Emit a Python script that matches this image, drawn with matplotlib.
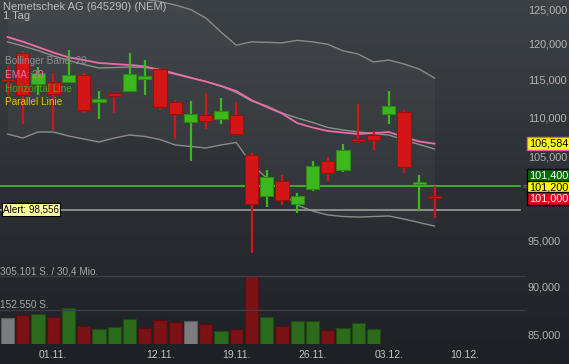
import numpy as np
import matplotlib.pyplot as plt
from matplotlib.transforms import blended_transform_factory
from matplotlib.ticker import FixedLocator, NullLocator, FuncFormatter

plt.rcParams['font.family'] = ['Liberation Sans', 'DejaVu Sans']

dates = ["29.10.", "30.10.", "31.10.", "01.11.", "02.11.", "05.11.", "06.11.", "07.11.",
         "08.11.", "09.11.", "12.11.", "13.11.", "14.11.", "15.11.", "16.11.", "19.11.",
         "20.11.", "21.11.", "22.11.", "23.11.", "26.11.", "27.11.", "28.11.", "29.11.",
         "30.11.", "03.12.", "04.12.", "05.12.", "06.12."]
opens = [115100, 118680, 114400, 114670, 114670, 115630, 111980, 113050, 113450, 115080,
         116450, 111980, 109360, 110270, 109750, 110270, 105160, 100170, 101960, 99220,
         101000, 104410, 103300, 107180, 107690, 110400, 110660, 101720, 100170]
highs = [116900, 118960, 116740, 115900, 119110, 115900, 113450, 113180, 118680, 117700,
         116590, 112250, 112120, 113180, 112520, 111980, 105410, 103300, 102690, 100540,
         104410, 104910, 106540, 111720, 108200, 113450, 110930, 102690, 101370]
lows = [112900, 109080, 112920, 108330, 114540, 110530, 109750, 110530, 113320, 112920,
        110930, 107180, 104410, 108460, 109100, 107690, 93610, 98880, 99100, 98170,
        100760, 101960, 103060, 106660, 105790, 109100, 102940, 98400, 97580]
closes = [114900, 112920, 115900, 113050, 115630, 110930, 112380, 112920, 115770, 115490,
          111320, 110400, 110400, 109490, 110790, 107830, 99280, 102450, 99690, 100170,
          103800, 102940, 105790, 106920, 107050, 111450, 103670, 101840, 99930]
volumes = [115300, 128800, 133300, 119800, 160200, 80800, 67300, 77600, 110800, 71800,
           107700, 97400, 101900, 88400, 59700, 67300, 305101, 121100, 80800, 101900,
           101900, 61500, 70400, 92900, 66000, 1500, 1500, 1500, 1500]
ema20 = [120960, 120290, 119530, 118760, 118080, 117700, 117290, 117150, 117010, 116830,
         116250, 115770, 115250, 114740, 114130, 113450, 112250, 111320, 110460, 109220,
         108650, 108200, 108000, 107820, 107940, 108070, 107430, 106860, 106584]
bb_mid = [120270, 119680, 119040, 118270, 117640, 117080, 116590, 116660, 116730, 116660,
          116450, 115840, 115290, 114740, 114130, 113250, 112120, 111450, 110530, 109880,
          109300, 108650, 108330, 108070, 107880, 107690, 107050, 106480, 105910]
bb_upper = [129000, 129300, 129400, 129200, 128900, 128500, 128000, 127500, 127000, 126500,
            126150, 125640, 124970, 123730, 121680, 119780, 120270, 120200, 120130, 120480,
            120270, 119920, 119000, 118540, 117430, 117700, 117150, 116450, 115210]
bb_lower = [107810, 107300, 108070, 108070, 107560, 107180, 106800, 107300, 107690, 107500,
            107110, 106420, 106230, 106040, 106420, 106730, 104040, 102300, 100520, 99100,
            98400, 97940, 97760, 97700, 97760, 97820, 97470, 97060, 96660]

date_ticks = [3, 10, 15, 20, 25, 30]
date_labels = ["01.11.", "12.11.", "19.11.", "26.11.", "03.12.", "10.12."]
price_ticks = [85000, 90000, 95000, 105000, 110000, 115000, 120000, 125000]
horizontal_line = 101400
alert_level = 98556
ema_last = 106584
parallel_level = 101200
last_price = 101000
vol_max = 305101

W, H = 569, 364
fig = plt.figure(figsize=(W / 100, H / 100), dpi=100)

# background gradient
bg = fig.add_axes([0, 0, 1, 1])
grad = np.linspace(0, 1, 256).reshape(-1, 1)
top = np.array([0x3c, 0x41, 0x46]) / 255
bot = np.array([0x1d, 0x20, 0x24]) / 255
img = top + (bot - top) * grad[..., None]
bg.imshow(img, aspect='auto', extent=[0, 1, 0, 1])
bg.set_axis_off()

x = np.arange(len(closes))
xlim = (-7.5 / 15.25, (522 - 7.5) / 15.25)
pw = 522 / W

ax = fig.add_axes([0, 0, pw, 1])
ax.patch.set_alpha(0)
ax.set_yscale('log')
ax.set_xlim(*xlim)
ax.set_ylim(82071, 126387)
for s in ax.spines.values():
    s.set_visible(False)
ax.yaxis.tick_right()
ax.yaxis.set_major_locator(FixedLocator(price_ticks))
ax.yaxis.set_minor_locator(NullLocator())
ax.yaxis.set_major_formatter(FuncFormatter(lambda v, p: f"{v:,.0f}"))
ax.tick_params(axis='y', length=0, pad=4.3, labelsize=7.8, labelcolor='#b4b4b4')
ax.set_xticks([])

# bollinger bands
ax.fill_between(x, bb_lower, bb_upper, color='white', alpha=0.035, lw=0)
ax.plot(x, bb_upper, color='#8a8a8a', lw=1.0)
ax.plot(x, bb_lower, color='#8a8a8a', lw=1.0)
ax.plot(x, bb_mid, color='#8f8f8f', lw=1.0)
ax.plot(x, ema20, color='#ee6aa8', lw=1.3)

# lines
ax.axhline(horizontal_line, xmax=0.997, color='#3cc81e', lw=1.2)
ax.axhline(alert_level, xmax=0.997, color='#9c9c9c', lw=1.2)

# candles
for i in x:
    o, h, l, c = opens[i], highs[i], lows[i], closes[i]
    if c >= o:
        fc, ec = '#3db81c', '#2b8a12'
    else:
        fc, ec = '#d41515', '#a00d0d'
    ax.vlines(i, l, h, color=fc, lw=1.6, zorder=3)
    b0, b1 = min(o, c), max(o, c)
    if b1 / b0 < 1.0025:
        mid = (b0 + b1) / 2
        b0, b1 = mid / 1.0012, mid * 1.0012
    ax.bar(i, b1 - b0, bottom=b0, width=0.86, color=fc, edgecolor=ec, lw=0.8, zorder=4)

# volume pane
vax = fig.add_axes([0, 20 / H, pw, 68 * 1.25 / H])
vax.patch.set_alpha(0)
vax.set_xlim(*xlim)
vax.set_ylim(0, vol_max * 1.25)
vax.set_axis_off()
vcolors, vedges = [], []
for i in x:
    if i == 0 or closes[i] == closes[i - 1]:
        vcolors.append('#7b7c7e'); vedges.append('#5c5d5f')
    elif closes[i] > closes[i - 1]:
        vcolors.append('#2d6b1c'); vedges.append('#1f4a13')
    else:
        vcolors.append('#7a1216'); vedges.append('#5a0d10')
vax.bar(x, volumes, width=0.87, color=vcolors, edgecolor=vedges, lw=0.8)
for lvl in [vol_max, vol_max / 2]:
    vax.axhline(lvl, xmin=0, xmax=525 / 522, color='#3b4044', lw=0.9, clip_on=False)
vax.text(0, vol_max, "305.101 S. / 30,4 Mio.", color='#a8a8a8', fontsize=7.2,
         ha='left', va='bottom', transform=blended_transform_factory(fig.transFigure, vax.transData))
vax.text(0, vol_max / 2, "152.550 S.", color='#a8a8a8', fontsize=7.2,
         ha='left', va='bottom', transform=blended_transform_factory(fig.transFigure, vax.transData))

# date labels
tr = blended_transform_factory(ax.transData, fig.transFigure)
for t, lab in zip(date_ticks, date_labels):
    ax.text(t, 1 - 355 / H, lab, color='#c4c4c4', fontsize=7.5, ha='center', va='center',
            transform=tr, clip_on=False)

# title & legend
def ftext(px, py, s, **kw):
    fig.text(px / W, 1 - py / H, s, va='center', ha='left', **kw)

ftext(3, 6.5, "Nemetschek AG (645290) (NEM)", color='#bcbcbc', fontsize=8)
ftext(3, 16, "1 Tag", color='#bcbcbc', fontsize=8)
ftext(5, 61, "Bollinger Band: 20", color='#8e8e8e', fontsize=7.2)
ftext(5, 74.5, "EMA: 20", color='#ee6aa8', fontsize=7.2)
ftext(5, 89, "Horizontal Line", color='#3aa81a', fontsize=7.2)
ftext(5, 102, "Parallel Linie", color='#e8c200', fontsize=7.2)

# alert label
ax.annotate("Alert: 98,556", xy=(0, alert_level), xycoords=('figure fraction', 'data'),
            xytext=(3, 0), textcoords='offset pixels', va='center', ha='left',
            fontsize=7.1, color='black',
            bbox=dict(boxstyle='square,pad=0.15', fc='#ffffa0', ec='black', lw=0.8))

# right side value boxes
rtr = blended_transform_factory(fig.transFigure, ax.transData)
boxes = [
    (ema_last, "106,584", 0, '#ffff00', '#e060a0', 'black'),
    (horizontal_line, "101,400", 10.5, '#006b00', 'black', 'white'),
    (parallel_level, "101,200", 0, '#ffff00', 'black', 'black'),
    (last_price, "101,000", -9.5, '#e0001b', 'black', 'white'),
]
for val, lab, off, fc, ec, tc in boxes:
    ax.annotate(lab, xy=(529 / W, val), xycoords=rtr, xytext=(0, off),
                textcoords='offset pixels', va='center', ha='left', fontsize=7.8,
                color=tc, bbox=dict(boxstyle='square,pad=0.15', fc=fc, ec=ec, lw=1.0),
                annotation_clip=False)
ax.annotate("=", xy=(523 / W, parallel_level), xycoords=rtr, va='center', ha='left',
            fontsize=6, color='#9a9a9a', annotation_clip=False)

fig.savefig("out.png", dpi=100)
